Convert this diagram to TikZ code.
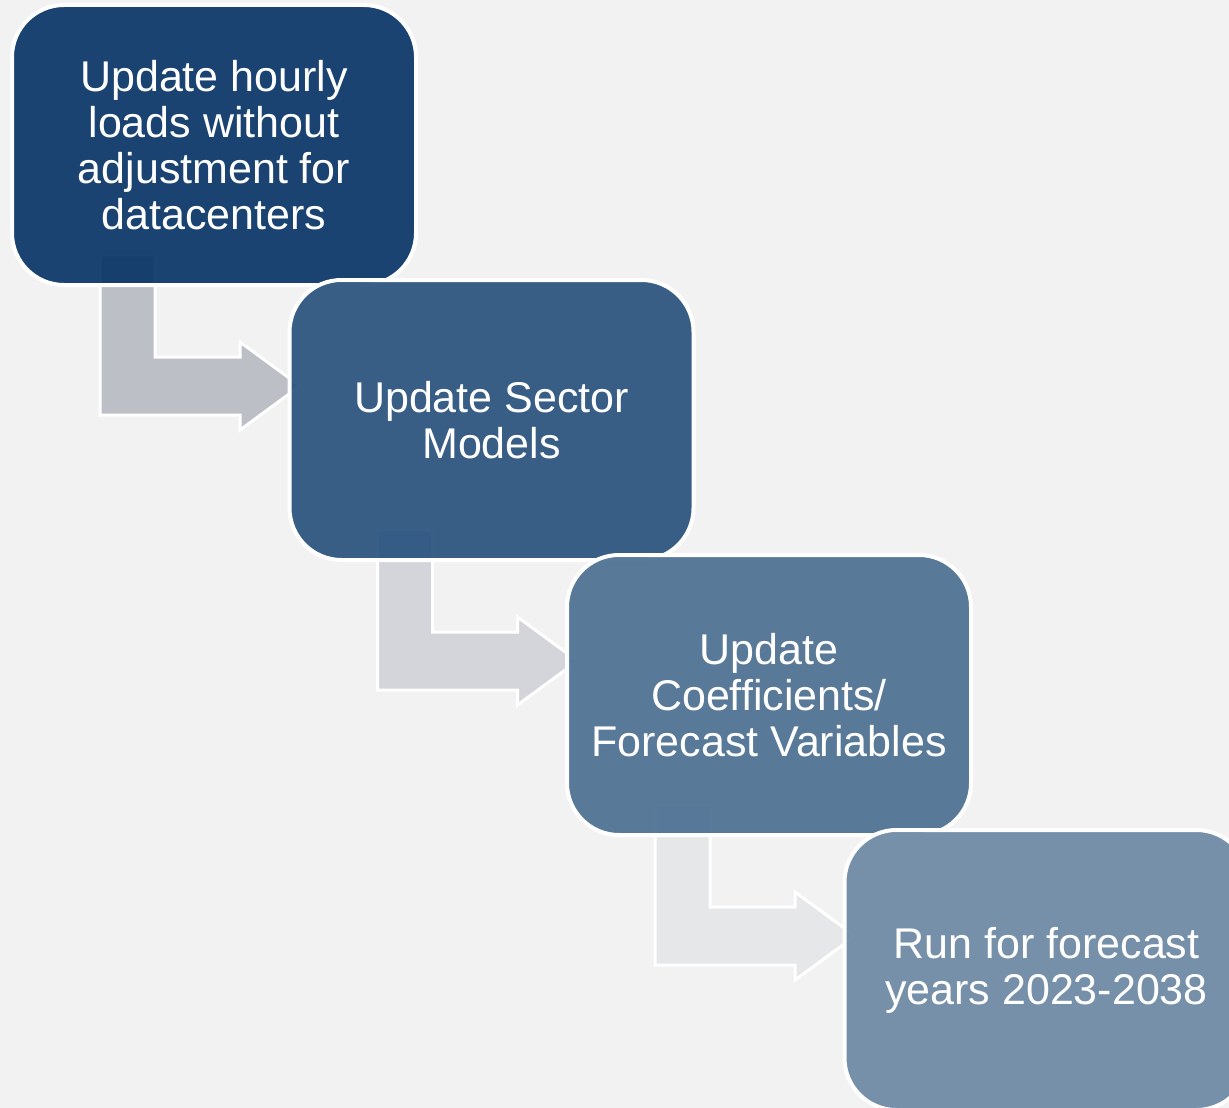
\documentclass[tikz,border=0pt]{standalone}
\usepackage{fontspec}
\setmainfont{Liberation Sans}
\usepackage{tikz}
\usetikzlibrary{calc}

\definecolor{bgcol}{RGB}{242,242,242}
\definecolor{stepA}{RGB}{10,54,104}
\definecolor{stepB}{RGB}{42,83,126}
\definecolor{stepC}{RGB}{77,112,146}
\definecolor{stepD}{RGB}{109,137,164}
\definecolor{arrowA}{RGB}{188,191,198}
\definecolor{arrowB}{RGB}{211,213,218}
\definecolor{arrowC}{RGB}{230,231,233}

\tikzset{
    stepbox/.style={draw=white, line width=4pt, rounded corners=52pt,
        minimum width=404pt, minimum height=280pt, align=center,
        fill opacity=0.93, text opacity=1, draw opacity=1, text=white,
        font=\fontsize{43}{46}\selectfont},
    steparrow/.style={draw=white, line width=3pt, line join=miter}
}

\begin{document}
\begin{tikzpicture}[x=1pt,y=-1pt]
            \useasboundingbox (0,0) rectangle (1229,1108);
            \clip (0,0) rectangle (1229,1108);
            \fill[bgcol] (0,0) rectangle (1229,1108);
            \coordinate (c1) at (214,145);
            \coordinate (c2) at (491.5,420);
            \coordinate (c3) at (769,695);
            \coordinate (c4) at (1046.5,970);
            % bent arrows behind the boxes
            \draw[steparrow, fill=arrowA, shift={(c1)}] (-114,110) -- (-59,110) -- (-59,212) -- (26,212) -- (26,197) -- (86,241) -- (26,285) -- (26,270) -- (-114,270) -- cycle;
            \draw[steparrow, fill=arrowB, shift={(c2)}] (-114,110) -- (-59,110) -- (-59,212) -- (26,212) -- (26,197) -- (86,241) -- (26,285) -- (26,270) -- (-114,270) -- cycle;
            \draw[steparrow, fill=arrowC, shift={(c3)}] (-114,110) -- (-59,110) -- (-59,212) -- (26,212) -- (26,197) -- (86,241) -- (26,285) -- (26,270) -- (-114,270) -- cycle;
            % steps
            \node[stepbox, fill=stepA] (hourly) at (c1) {Update hourly\\loads without\\adjustment for\\datacenters};
            \node[stepbox, fill=stepB] (sector) at (c2) {Update Sector\\Models};
            \node[stepbox, fill=stepC] (coeffs) at (c3) {Update\\Coefficients/\\Forecast Variables};
            \node[stepbox, fill=stepD] (run) at (c4) {Run for forecast\\years 2023-2038};
        \end{tikzpicture}
\end{document}
